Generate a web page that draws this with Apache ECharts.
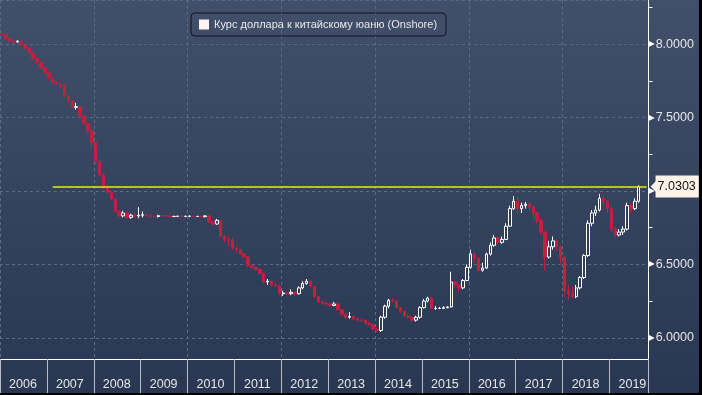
<!DOCTYPE html>
<html><head><meta charset="utf-8">
<script src="https://cdn.jsdelivr.net/npm/echarts@6/dist/echarts.min.js"></script>
<style>html,body{margin:0;padding:0;background:#000;width:702px;height:395px;overflow:hidden}#c{width:699px;height:393px}</style>
</head><body><div id="c"></div><script>
// Monthly USD/CNY candles, Jan 2006 – Aug 2019
const years = ['2006','2007','2008','2009','2010','2011','2012','2013','2014','2015','2016','2017','2018','2019'];
const lastMonthOnAxis = 10; // axis runs through Oct 2019
const seriesName = 'Курс доллара к китайскому юаню (Onshore)';
const lastPrice = 7.0303;
const lineStart = '2007-02';
const lineEnd = '2019-10';

const opens = [
 8.070,8.065,8.040,8.020,8.015,8.020,7.995,7.970,7.940,7.905,7.875,7.840,
 7.805,7.770,7.740,7.730,7.720,7.650,7.615,7.570,7.575,7.510,7.460,7.410,
 7.330,7.200,7.110,7.020,6.990,6.945,6.860,6.830,6.850,6.820,6.835,6.830,
 6.835,6.838,6.830,6.828,6.826,6.832,6.831,6.829,6.826,6.827,6.828,6.827,
 6.827,6.828,6.826,6.826,6.825,6.830,6.790,6.775,6.800,6.690,6.670,6.665,
 6.610,6.600,6.570,6.550,6.490,6.480,6.465,6.440,6.380,6.385,6.360,6.355,
 6.300,6.305,6.300,6.310,6.300,6.340,6.370,6.385,6.350,6.280,6.245,6.235,
 6.230,6.220,6.230,6.190,6.160,6.140,6.145,6.130,6.120,6.118,6.100,6.090,
 6.060,6.050,6.140,6.215,6.255,6.250,6.205,6.180,6.150,6.140,6.120,6.140,
 6.205,6.250,6.270,6.200,6.200,6.200,6.205,6.210,6.380,6.360,6.340,6.390,
 6.480,6.570,6.540,6.460,6.475,6.570,6.630,6.680,6.650,6.670,6.760,6.880,
 6.930,6.880,6.900,6.910,6.890,6.850,6.800,6.720,6.550,6.620,6.660,6.620,
 6.550,6.320,6.300,6.280,6.340,6.410,6.560,6.780,6.850,6.870,6.950,6.930,
 6.880,6.740,6.700,6.720,6.740,6.900,6.880,6.930
];
const closes = [
 8.065,8.040,8.020,8.015,8.020,7.995,7.970,7.940,7.905,7.875,7.840,7.805,
 7.770,7.740,7.730,7.720,7.650,7.615,7.570,7.575,7.510,7.460,7.410,7.330,
 7.200,7.110,7.020,6.990,6.945,6.860,6.830,6.850,6.820,6.835,6.830,6.835,
 6.838,6.830,6.828,6.826,6.832,6.831,6.829,6.826,6.827,6.828,6.827,6.827,
 6.828,6.826,6.826,6.825,6.830,6.790,6.775,6.800,6.690,6.670,6.665,6.610,
 6.600,6.570,6.550,6.490,6.480,6.465,6.440,6.380,6.385,6.360,6.355,6.300,
 6.305,6.300,6.310,6.300,6.340,6.370,6.385,6.350,6.280,6.245,6.235,6.230,
 6.220,6.230,6.190,6.160,6.140,6.145,6.130,6.120,6.118,6.100,6.090,6.060,
 6.050,6.140,6.215,6.255,6.250,6.205,6.180,6.150,6.140,6.120,6.140,6.205,
 6.250,6.270,6.200,6.200,6.200,6.205,6.210,6.380,6.360,6.340,6.390,6.480,
 6.570,6.540,6.460,6.475,6.570,6.630,6.680,6.650,6.670,6.760,6.880,6.930,
 6.880,6.900,6.910,6.890,6.850,6.800,6.720,6.550,6.620,6.660,6.620,6.550,
 6.320,6.300,6.280,6.340,6.410,6.560,6.780,6.850,6.870,6.950,6.930,6.880,
 6.740,6.700,6.720,6.740,6.900,6.880,6.930,7.0303
];
const highs = [
 8.075,8.068,8.045,8.030,8.028,8.025,8.000,7.975,7.945,7.910,7.880,7.845,
 7.810,7.775,7.750,7.735,7.725,7.655,7.620,7.600,7.580,7.515,7.465,7.415,
 7.335,7.210,7.120,7.040,6.995,6.950,6.870,6.865,6.860,6.845,6.850,6.890,
 6.860,6.845,6.840,6.835,6.838,6.836,6.835,6.834,6.831,6.832,6.832,6.832,
 6.834,6.832,6.832,6.830,6.835,6.835,6.795,6.810,6.805,6.700,6.690,6.680,
 6.620,6.605,6.580,6.555,6.500,6.490,6.475,6.445,6.400,6.390,6.380,6.360,
 6.320,6.310,6.330,6.315,6.350,6.385,6.400,6.390,6.355,6.285,6.250,6.245,
 6.240,6.245,6.235,6.195,6.170,6.175,6.150,6.135,6.130,6.125,6.105,6.095,
 6.070,6.150,6.225,6.265,6.270,6.255,6.210,6.185,6.160,6.145,6.150,6.215,
 6.265,6.280,6.275,6.215,6.210,6.215,6.215,6.450,6.390,6.370,6.400,6.500,
 6.600,6.580,6.550,6.510,6.580,6.650,6.700,6.690,6.690,6.780,6.900,6.965,
 6.960,6.920,6.925,6.920,6.900,6.860,6.810,6.725,6.660,6.690,6.670,6.630,
 6.560,6.360,6.350,6.360,6.420,6.570,6.800,6.870,6.900,6.980,6.970,6.940,
 6.890,6.760,6.740,6.760,6.920,6.920,6.950,7.040
];
const lows = [
 8.055,8.035,8.012,8.005,8.010,7.990,7.965,7.935,7.895,7.865,7.830,7.800,
 7.765,7.730,7.720,7.700,7.640,7.605,7.565,7.555,7.500,7.450,7.385,7.300,
 7.180,7.100,7.010,6.980,6.935,6.855,6.820,6.820,6.810,6.810,6.815,6.815,
 6.820,6.825,6.820,6.822,6.820,6.825,6.825,6.822,6.822,6.823,6.823,6.822,
 6.822,6.822,6.822,6.820,6.820,6.780,6.765,6.770,6.685,6.650,6.620,6.600,
 6.580,6.560,6.540,6.480,6.470,6.460,6.430,6.370,6.360,6.350,6.350,6.290,
 6.285,6.290,6.290,6.285,6.295,6.330,6.360,6.345,6.270,6.235,6.225,6.220,
 6.210,6.215,6.185,6.150,6.130,6.130,6.120,6.110,6.110,6.090,6.080,6.050,
 6.040,6.040,6.130,6.200,6.240,6.200,6.170,6.140,6.130,6.110,6.110,6.130,
 6.200,6.240,6.195,6.190,6.195,6.195,6.200,6.205,6.340,6.315,6.330,6.385,
 6.470,6.510,6.450,6.450,6.470,6.560,6.620,6.630,6.640,6.665,6.755,6.870,
 6.840,6.850,6.880,6.870,6.810,6.780,6.700,6.460,6.540,6.600,6.590,6.500,
 6.280,6.260,6.270,6.270,6.330,6.400,6.550,6.760,6.830,6.860,6.900,6.850,
 6.720,6.680,6.690,6.700,6.730,6.850,6.870,6.920
];

// category axis: one band per month
const categories = [];
years.forEach((y, yi) => {
  const n = yi === years.length - 1 ? lastMonthOnAxis : 12;
  for (let m = 1; m <= n; m++) categories.push(y + '-' + String(m).padStart(2, '0'));
});
const candles = closes.map((c, i) => [opens[i], c, lows[i], highs[i]]);

const FONT = 'Liberation Sans';
const GRID_DASH = '#5a6c8a';
const chart = echarts.init(document.getElementById('c'), null, {renderer: 'canvas'});
chart.setOption({
  animation: false,
  backgroundColor: {type: 'linear', x: 0, y: 0, x2: 0, y2: 1, colorStops: [
    {offset: 0, color: '#414f6a'}, {offset: 1, color: '#2a3752'}]},
  textStyle: {fontFamily: FONT},
  legend: {
    left: 191, top: 13, padding: [6, 9, 6, 8],
    borderColor: '#10151f', borderWidth: 1, borderRadius: 4,
    itemWidth: 10, itemHeight: 10, itemGap: 5,
    textStyle: {color: '#e8e8ea', fontSize: 11, fontFamily: FONT},
    data: [{name: seriesName, icon: 'rect', itemStyle: {color: '#fff4f0', borderWidth: 0}}]
  },
  grid: {left: 0, right: 50.5, top: -1, bottom: 34},
  xAxis: {
    type: 'category', data: categories, boundaryGap: true,
    axisLine: {lineStyle: {color: '#ffffff', width: 1}},
    axisTick: {show: true, interval: (i) => i % 12 === 0, length: 36, lineStyle: {color: '#b8bcc6', width: 1}},
    axisLabel: {
      interval: (i) => i % 12 === 5,
      formatter: (v) => v.slice(0, 4),
      margin: 19, color: '#e6e6e8', fontSize: 12.5, fontFamily: FONT, padding: [0, 0, 0, 3]
    },
    splitLine: {show: true, interval: (i) => i % 24 === 0, lineStyle: {color: GRID_DASH, type: [3, 3], width: 1}}
  },
  yAxis: {
    type: 'value', position: 'right', min: 5.8553, max: 8.301, scale: true,
    axisLine: {show: true, lineStyle: {color: '#ffffff', width: 1}},
    axisTick: {show: false},
    minorTick: {show: true, splitNumber: 2, length: 4, lineStyle: {color: '#ffffff', width: 1}},
    axisLabel: {
      showMinLabel: false, showMaxLabel: false, margin: 0,
      formatter: (v) => '{t|▶}{v|' + v.toFixed(4) + '}',
      rich: {
        t: {color: '#ffffff', fontSize: 8, padding: [0, 1, 0, 0], fontFamily: 'DejaVu Sans'},
        v: {color: '#e6e6e8', fontSize: 12.5, fontFamily: FONT}
      }
    },
    splitLine: {show: true, lineStyle: {color: GRID_DASH, type: [3, 3], width: 1}}
  },
  series: [{
    name: seriesName, type: 'candlestick', data: candles, barWidth: '75%',
    itemStyle: {color: '#2e3c57', borderColor: '#ffffff', color0: '#c51f40', borderColor0: '#c51f40', borderWidth: 1},
    markLine: {
      silent: true, symbol: ['none', 'none'],
      lineStyle: {color: '#e4ec12', width: 1.5, type: 'solid'},
      label: {
        show: true, position: 'end', distance: 9,
        formatter: () => lastPrice.toFixed(4),
        color: '#111111', fontSize: 12.5, fontFamily: FONT,
        backgroundColor: '#fdf3e8', padding: [4, 3, 4, 2], lineHeight: 14
      },
      data: [[{coord: [lineStart, lastPrice]}, {coord: [lineEnd, lastPrice]}]]
    },
    markPoint: {
      silent: true, symbol: 'triangle', symbolRotate: 90, symbolSize: [16, 8], symbolOffset: [8, 0],
      itemStyle: {color: '#fdf3e8'}, label: {show: false},
      data: [{coord: [lineEnd, lastPrice]}]
    }
  }]
});
</script></body></html>
